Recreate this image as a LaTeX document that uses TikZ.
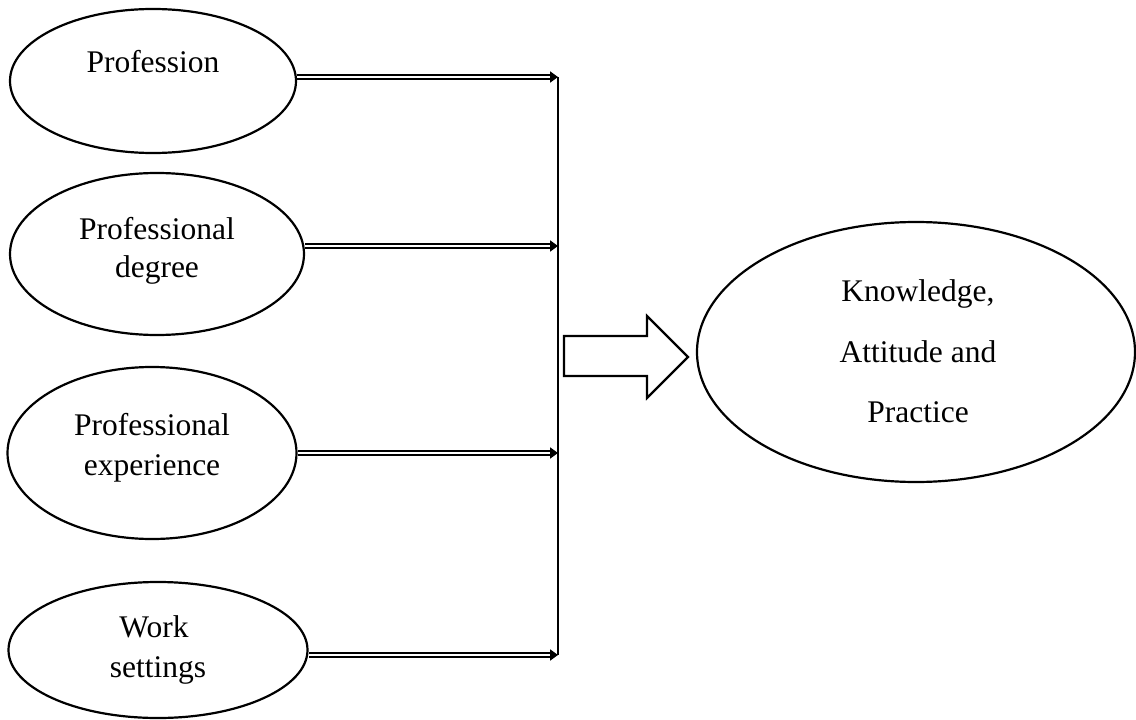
\documentclass[tikz,border=0pt]{standalone}
\usepackage{fontspec}
\setmainfont{Liberation Serif}
\usetikzlibrary{arrows.meta,shapes.geometric}
\begin{document}
\begin{tikzpicture}[x=1pt,y=-1pt,
  oval/.style={draw, ellipse, line width=2.2pt, inner sep=0pt},
  lbl/.style={font=\fontsize{31.5}{38}\selectfont, anchor=base, inner sep=0pt},
  dbl/.style={line width=2pt, double=white, double distance=1.8pt,
     -{Triangle[length=8pt,width=11pt]}},
  vline/.style={line width=1.3pt},
  bigarrow/.style={draw, line width=2.2pt, fill=white, line join=miter}
]
\useasboundingbox (0,0) rectangle (1136,720);
% input ellipses
\node[oval, minimum width=286pt, minimum height=144pt] (prof) at (153,81) {};
\node[oval, minimum width=294pt, minimum height=162pt] (deg) at (157,254) {};
\node[oval, minimum width=289pt, minimum height=172pt] (exp) at (152,453) {};
\node[oval, minimum width=299pt, minimum height=136pt] (work) at (158,650) {};
% outcome ellipse
\node[oval, minimum width=438pt, minimum height=260pt] (kap) at (916,352) {};
% labels
\node[lbl] (tprof) at (153,72) {Profession};
\node[lbl] (tdeg1) at (157,239) {Professional};
\node[lbl] (tdeg2) at (157,277) {degree};
\node[lbl] (texp1) at (152,435) {Professional};
\node[lbl] (texp2) at (152,475) {experience};
\node[lbl] (twork1) at (154,637) {Work};
\node[lbl] (twork2) at (158,677) {settings};
\node[lbl] (tk1) at (918,301) {Knowledge,};
\node[lbl] (tk2) at (918,362) {Attitude and};
\node[lbl] (tk3) at (918,422) {Practice};
% arrow ends on the collector line
\coordinate (t1) at (558,77);
\coordinate (t2) at (558,246);
\coordinate (t3) at (558,453);
\coordinate (t4) at (558,655);
% connectors
\draw[vline] (t1) -- (t4);
\draw[dbl] (prof.east |- t1) -- (t1);
\draw[dbl] (deg.east |- t2) -- (t2);
\draw[dbl] (exp.east |- t3) -- (t3);
\draw[dbl] (work.east |- t4) -- (t4);
% block arrow to the outcome
\draw[bigarrow] (564,336) -- (647,336) -- (647,316) -- (688,357) -- (647,398) -- (647,376) -- (564,376) -- cycle;
\end{tikzpicture}
\end{document}
